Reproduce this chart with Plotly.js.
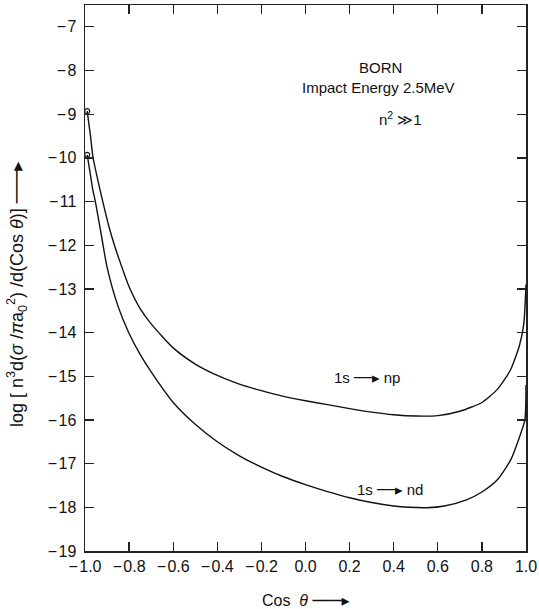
<!DOCTYPE html>
<html>
<head>
<meta charset="utf-8">
<script src="https://cdn.plot.ly/plotly-3.0.1.min.js"></script>
<style>html,body{margin:0;padding:0;background:#fff;}#chart{width:539px;height:609px;}</style>
</head>
<body>
<div id="chart"></div>
<script>
// cos(theta) sample points and log cross-section values
const npX = [-0.99, -0.975, -0.964, -0.94, -0.918, -0.89, -0.864, -0.828, -0.8, -0.75, -0.7, -0.6, -0.5, -0.4, -0.3, -0.2, -0.1, 0.0, 0.1, 0.2, 0.3, 0.4, 0.5, 0.6, 0.7, 0.8, 0.87, 0.93, 0.97, 0.99, 1.0];
const npY = [-8.93, -9.5, -9.98, -10.55, -11.03, -11.6, -12.04, -12.57, -12.95, -13.45, -13.8, -14.35, -14.72, -14.98, -15.18, -15.33, -15.46, -15.56, -15.65, -15.74, -15.82, -15.88, -15.91, -15.9, -15.8, -15.6, -15.3, -14.85, -14.3, -13.8, -12.9];
const ndX = [-0.99, -0.975, -0.964, -0.955, -0.93, -0.9, -0.85, -0.8, -0.75, -0.7, -0.6, -0.5, -0.4, -0.3, -0.2, -0.1, 0.0, 0.1, 0.2, 0.3, 0.4, 0.47, 0.55, 0.63, 0.73, 0.8, 0.87, 0.93, 0.97, 0.995, 1.0];
const ndY = [-9.93, -10.4, -10.75, -10.95, -11.65, -12.5, -13.4, -14.02, -14.5, -14.9, -15.6, -16.1, -16.5, -16.82, -17.08, -17.3, -17.48, -17.64, -17.78, -17.89, -17.97, -18.0, -18.01, -17.97, -17.83, -17.65, -17.37, -16.92, -16.4, -16.0, -15.2];
const xTicks = [-1.0, -0.8, -0.6, -0.4, -0.2, 0.0, 0.2, 0.4, 0.6, 0.8, 1.0];
const xTickText = ['\u2212\u200A1.0', '\u2212\u200A0.8', '\u2212\u200A0.6', '\u2212\u200A0.4', '\u2212\u200A0.2', '0.0', '0.2', '0.4', '0.6', '0.8', '1.0'];
const yTicks = [-19, -18, -17, -16, -15, -14, -13, -12, -11, -10, -9, -8, -7];
const yTickText = yTicks.map(v => '\u2212\u200A' + Math.abs(v));

const lineStyle = {color: '#111', width: 1.4, shape: 'spline', smoothing: 0.6};
const traces = [
  {x: npX, y: npY, mode: 'lines', line: lineStyle, name: '1s→np', hoverinfo: 'skip'},
  {x: ndX, y: ndY, mode: 'lines', line: lineStyle, name: '1s→nd', hoverinfo: 'skip'},
  {x: [npX[0], ndX[0]], y: [npY[0], ndY[0]], mode: 'markers',
   marker: {symbol: 'circle-open', size: 5, color: '#111', line: {width: 1.2}}, hoverinfo: 'skip'}
];
const fam = 'Liberation Sans, Arial, sans-serif';
const font = {family: fam, size: 15, color: '#111'};
const tickFont = {family: fam, size: 16, color: '#111'};
const arrow = '<span style="font-family:DejaVu Sans">\u2500\u2500\u25B8</span>';
const longArrow = '<span style="font-family:DejaVu Sans">\u2500\u2500\u2500\u25B8</span>';
const axisCommon = {
  showgrid: false, zeroline: false, showline: true, linecolor: '#222', linewidth: 1.5,
  mirror: 'ticks', ticks: 'inside', ticklen: 9, tickwidth: 1.3, tickcolor: '#222',
  tickfont: tickFont
};
const ann = (text, x, y, extra) => Object.assign({text: text, x: x, y: y, xref: 'x', yref: 'y', xanchor: 'center', yanchor: 'middle', showarrow: false, font: font}, extra || {});
const layout = {
  width: 539, height: 609,
  margin: {l: 85, r: 13, t: 5, b: 58},
  paper_bgcolor: '#fff', plot_bgcolor: '#fff',
  showlegend: false,
  font: font,
  xaxis: Object.assign({}, axisCommon, {range: [-1, 1], tickvals: xTicks, ticktext: xTickText}),
  yaxis: Object.assign({}, axisCommon, {range: [-19, -6.5], tickvals: yTicks, ticktext: yTickText, ticklabelstandoff: 4}),
  annotations: [
    ann('BORN', 0.342, -7.92),
    ann('Impact Energy 2.5MeV', 0.329, -8.38),
    ann('n<sup>2</sup> \u226B1', 0.429, -9.09),
    ann('1s ' + arrow + ' np', 0.279, -15.04),
    ann('1s ' + arrow + ' nd', 0.383, -17.6),
    ann('Cos  <i>θ</i> ' + longArrow, 0.5, -0.09, {xref: 'paper', yref: 'paper', font: {family: fam, size: 16, color: '#111'}}),
    ann('log [ n<sup>3</sup>d(<i>σ</i> /<i>π</i>a<sub>0</sub><sup>2</sup>) /d(Cos <i>θ</i>)] ' + longArrow, -0.155, 0.47,
        {xref: 'paper', yref: 'paper', textangle: -90, font: {family: fam, size: 18, color: '#111'}})
  ]
};
Plotly.newPlot('chart', traces, layout, {displayModeBar: false, staticPlot: true});
</script>
</body>
</html>
